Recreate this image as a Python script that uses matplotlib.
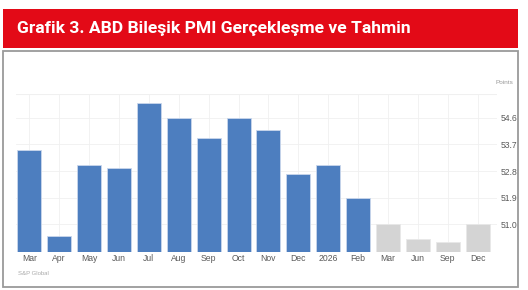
"""
ABD Bilesik PMI - gerceklesme ve tahmin bar grafigi
"""
import matplotlib
matplotlib.use("Agg")
import matplotlib.pyplot as plt
from matplotlib.patches import Rectangle

# data
months = ['Mar', 'Apr', 'May', 'Jun', 'Jul', 'Aug', 'Sep', 'Oct', 'Nov', 'Dec',
          '2026', 'Feb', 'Mar', 'Jun', 'Sep', 'Dec']
pmi_actual = [53.5, 50.6, 53.0, 52.9, 55.1, 54.6, 53.9, 54.6, 54.2, 52.7, 53.0, 51.9]
pmi_forecast = [51.0, 50.5, 50.4, 51.0]
y_ticks = [51.0, 51.9, 52.8, 53.7, 54.6]

title = 'Grafik 3. ABD Bileşik PMI Gerçekleşme ve Tahmin'
source = 'S&P Global'

plt.rcParams['font.family'] = ['Liberation Sans', 'DejaVu Sans']

fig = plt.figure(figsize=(5.28, 2.90), dpi=100)
fig.patch.set_facecolor('white')

# red title bar
fig.patches.append(Rectangle((0.0057, 0.833), 0.975, 0.135, transform=fig.transFigure,
                             facecolor='#E30A17', edgecolor='none', zorder=0))
fig.text(0.033, 0.90, title, color='white', fontsize=12.6, fontweight='bold',
         ha='left', va='center', family=['Roboto', 'DejaVu Sans'])

# gray frame around the chart
fig.patches.append(Rectangle((0.0057, 0.0114), 0.975, 0.812, transform=fig.transFigure,
                             facecolor='none', edgecolor='#9a9a9a', linewidth=1.3, zorder=0))

ax = fig.add_axes([0.0297, 0.131, 0.9113, 0.544])
base = 50.07
n_act = len(pmi_actual)
x_act = list(range(n_act))
x_fc = list(range(n_act, n_act + len(pmi_forecast)))

ax.bar(x_act, [v - base for v in pmi_actual], bottom=base, width=0.8,
       color='#4D7EBF', edgecolor='#c9d7ec', linewidth=0.6, zorder=3)
ax.bar(x_fc, [v - base for v in pmi_forecast], bottom=base, width=0.8,
       color='#D4D4D4', edgecolor='#e8e8e8', linewidth=0.6, zorder=3)

ax.set_xlim(-0.455, 15.64)
ax.set_ylim(base, 55.39)

ax.set_xticks(range(len(months)))
ax.set_xticklabels(months)
ax.set_yticks(y_ticks)
ax.set_yticklabels([f'{t:.1f}' for t in y_ticks])
ax.yaxis.tick_right()
ax.tick_params(axis='both', length=0, labelsize=6.2, colors='#5a5a5a')
ax.tick_params(axis='x', pad=1.5)
ax.tick_params(axis='y', pad=3)

ax.grid(True, color='#f0f0f0', linewidth=0.6, zorder=0)
ax.axhline(55.39, color='#f0f0f0', linewidth=0.8, zorder=0)
for s in ax.spines.values():
    s.set_visible(False)

fig.text(0.938, 0.716, 'Points', fontsize=4.6, color='#999999', ha='left', va='center')
fig.text(0.034, 0.058, source, fontsize=4.3, color='#aaaaaa', ha='left', va='center')

fig.savefig('out.png', dpi=100)
plt.close(fig)
